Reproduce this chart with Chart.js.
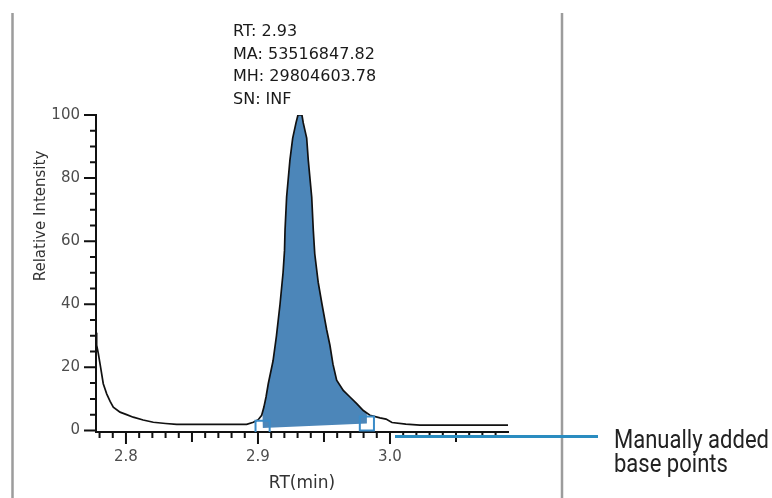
<!DOCTYPE html>
<html>
<head>
<meta charset="utf-8">
<title>Peak RT 2.93</title>
<script src="https://cdn.jsdelivr.net/npm/chart.js@4.4.1/dist/chart.umd.min.js"></script>
<style>
  html, body { margin: 0; padding: 0; background: #fff; }
  canvas { display: block; }
</style>
</head>
<body>
<canvas id="peakChart" width="772" height="498"></canvas>
<script>
// ============================================
// DATA
// ============================================

// Chromatogram trace: retention time (min) and relative intensity (%)
const rtValues = [
  2.7775, 2.7778, 2.7790, 2.7808, 2.7828, 2.7854, 2.7880, 2.7904, 2.7955, 2.8005,
  2.8055, 2.8130, 2.8207, 2.8300, 2.8384, 2.8914, 2.8965, 2.9002, 2.9028, 2.9045,
  2.9061, 2.9078, 2.9114, 2.9140, 2.9167, 2.9190, 2.9201, 2.9205, 2.9217, 2.9242,
  2.9263, 2.9288, 2.9303, 2.9333, 2.9343, 2.9369, 2.9381, 2.9407, 2.9419, 2.9430,
  2.9456, 2.9485, 2.9520, 2.9545, 2.9568, 2.9596, 2.9646, 2.9697, 2.9748, 2.9798,
  2.9848, 2.9924, 2.9970, 3.0015, 3.0120, 3.0227, 3.0894
];
const intensityValues = [
  31.0, 27.0, 24.5, 20.0, 14.8, 11.6, 9.2, 7.4, 5.8, 5.0,
  4.2, 3.3, 2.6, 2.2, 1.9, 1.9, 2.6, 3.4, 4.8, 7.4,
  10.6, 14.8, 22.0, 30.0, 40.0, 50.0, 57.0, 63.5, 74.0, 85.7,
  92.7, 97.5, 100.0, 100.0, 97.5, 92.7, 85.7, 74.0, 63.5, 56.0,
  47.0, 40.0, 32.0, 27.0, 21.0, 15.9, 12.7, 10.6, 8.5, 6.3,
  4.8, 4.0, 3.6, 2.5, 2.0, 1.7, 1.7
];

// Manually added base points of the integrated peak
const basePointRt = [2.9035, 2.9825];
const basePointIntensity = [0.8, 2.2];

// Axis ranges and labelled ticks
const xRange = [2.7773, 3.0894];
const yRange = [-0.5, 100];
const xTickValues = [2.8, 2.9, 3.0];
const xTickLabels = ['2.8', '2.9', '3.0'];
const yTickValues = [0, 20, 40, 60, 80, 100];
const yTickLabels = ['0', '20', '40', '60', '80', '100'];

// Peak label and callout text
const peakInfo = ['RT: 2.93', 'MA: 53516847.82', 'MH: 29804603.78', 'SN: INF'];
const calloutLines = ['Manually added', 'base points'];

// ============================================
// STYLE
// ============================================

const AXIS_FONT = '"DejaVu Sans", Verdana, sans-serif';
const PEAK_FILL = '#4c86b9';
const BASE_POINT_BLUE = '#3a8bc8';
const CALLOUT_BLUE = '#2a8cc0';

// ============================================
// PLUGINS
// ============================================

// Major / medium / minor tick marks on both axes
const tickMarks = {
  id: 'tickMarks',
  afterDraw(chart) {
    const { ctx, chartArea, scales: { x, y } } = chart;
    ctx.save();
    ctx.strokeStyle = '#111';
    ctx.lineWidth = 2;
    ctx.beginPath();
    x.ticks.forEach(t => {
      const h = Math.round(t.value * 100);
      const len = h % 10 === 0 ? 12 : (h % 5 === 0 ? 10 : 6);
      const px = x.getPixelForValue(t.value);
      ctx.moveTo(px, chartArea.bottom);
      ctx.lineTo(px, chartArea.bottom + len);
    });
    y.ticks.forEach(t => {
      const len = Math.round(t.value) % 20 === 0 ? 12 : 6;
      const py = y.getPixelForValue(t.value);
      ctx.moveTo(chartArea.left, py);
      ctx.lineTo(chartArea.left - len, py);
    });
    ctx.stroke();
    ctx.restore();
  }
};

// Frame lines, peak label, y title and the base point callout
const annotations = {
  id: 'annotations',
  afterDraw(chart) {
    const { ctx } = chart;
    ctx.save();

    // window frame edges
    ctx.strokeStyle = '#9c9c9c';
    ctx.lineWidth = 2.5;
    ctx.beginPath();
    ctx.moveTo(12.5, 13); ctx.lineTo(12.5, 498);
    ctx.moveTo(562, 13); ctx.lineTo(562, 498);
    ctx.stroke();

    // peak label
    ctx.fillStyle = '#1a1a1a';
    ctx.font = '16px ' + AXIS_FONT;
    ctx.textAlign = 'left';
    ctx.textBaseline = 'alphabetic';
    peakInfo.forEach((line, i) => ctx.fillText(line, 233, 36 + i * 22.5));

    // y axis title
    ctx.save();
    ctx.translate(41, 216);
    ctx.rotate(-Math.PI / 2);
    ctx.font = '15px ' + AXIS_FONT;
    ctx.fillStyle = '#333';
    ctx.textAlign = 'center';
    ctx.textBaseline = 'middle';
    ctx.fillText('Relative Intensity', 0, 0);
    ctx.restore();

    // callout leader
    ctx.strokeStyle = CALLOUT_BLUE;
    ctx.lineWidth = 3;
    ctx.beginPath();
    ctx.moveTo(395, 436.5);
    ctx.lineTo(598, 436.5);
    ctx.stroke();

    // callout text, condensed
    ctx.font = '25px Roboto, sans-serif';
    ctx.fillStyle = '#222';
    const squeeze = 155 / ctx.measureText(calloutLines[0]).width;
    calloutLines.forEach((line, i) => {
      ctx.save();
      ctx.translate(614, 448 + i * 24);
      ctx.scale(squeeze, 1);
      ctx.fillText(line, 0, 0);
      ctx.restore();
    });

    ctx.restore();
  }
};

// ============================================
// CHART
// ============================================

function axisGrid() {
  return {
    display: true,
    drawOnChartArea: false,
    drawTicks: true,
    tickLength: 13,
    tickColor: 'rgba(0,0,0,0)'
  };
}

function initializeChart() {
  const ctx = document.getElementById('peakChart').getContext('2d');

  const trace = rtValues.map((rt, i) => ({ x: rt, y: intensityValues[i] }));
  const basePoints = basePointRt.map((rt, i) => ({ x: rt, y: basePointIntensity[i] }));

  new Chart(ctx, {
    type: 'line',
    data: {
      datasets: [
        {
          label: 'Trace',
          data: trace,
          borderColor: '#111',
          borderWidth: 1.7,
          backgroundColor: PEAK_FILL,
          fill: { target: 1 },
          pointRadius: 0,
          tension: 0,
          order: 1
        },
        {
          label: 'Base points',
          data: basePoints,
          borderColor: 'rgba(0,0,0,0)',
          borderWidth: 0,
          fill: false,
          pointStyle: 'rect',
          pointRadius: 10,
          pointBorderColor: BASE_POINT_BLUE,
          pointBorderWidth: 2,
          pointBackgroundColor: 'rgba(0,0,0,0)',
          order: 0
        }
      ]
    },
    options: {
      responsive: false,
      animation: false,
      events: [],
      layout: { padding: { left: 0, top: 115, right: 264, bottom: 0 } },
      plugins: {
        legend: { display: false },
        tooltip: { enabled: false }
      },
      scales: {
        x: {
          type: 'linear',
          min: xRange[0],
          max: xRange[1],
          grid: axisGrid(),
          border: { display: true, color: '#111', width: 2 },
          ticks: {
            stepSize: 0.01,
            includeBounds: false,
            autoSkip: false,
            maxRotation: 0,
            padding: 3,
            color: '#4d4d4d',
            font: { family: AXIS_FONT, size: 15 },
            callback: (v) => {
              const idx = xTickValues.findIndex(t => Math.abs(t - v) < 1e-6);
              return idx >= 0 ? xTickLabels[idx] : '';
            }
          },
          title: {
            display: true,
            text: 'RT(min)',
            color: '#333',
            font: { family: AXIS_FONT, size: 17 },
            padding: { top: 0, bottom: 4 }
          },
          afterFit: (scale) => { scale.height = 66; }
        },
        y: {
          type: 'linear',
          min: yRange[0],
          max: yRange[1],
          grid: axisGrid(),
          border: { display: true, color: '#111', width: 2 },
          ticks: {
            stepSize: 5,
            includeBounds: false,
            autoSkip: false,
            padding: 3,
            color: '#4d4d4d',
            font: { family: AXIS_FONT, size: 15 },
            callback: (v) => {
              const idx = yTickValues.indexOf(Math.round(v * 1000) / 1000);
              return idx >= 0 ? yTickLabels[idx] : '';
            }
          },
          afterFit: (scale) => { scale.width = 96; }
        }
      }
    },
    plugins: [tickMarks, annotations]
  });
}

document.addEventListener('DOMContentLoaded', initializeChart);
</script>
</body>
</html>
